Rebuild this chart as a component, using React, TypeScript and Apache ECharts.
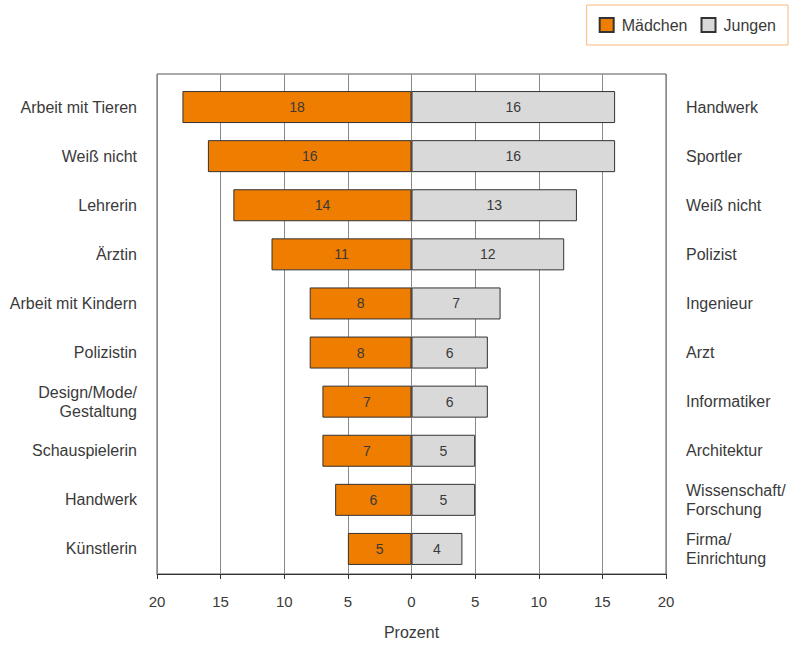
import React, { useEffect, useRef } from "react";
import * as echarts from "echarts";

const girlCategories = [
  "Arbeit mit Tieren",
  "Weiß nicht",
  "Lehrerin",
  "Ärztin",
  "Arbeit mit Kindern",
  "Polizistin",
  "Design/Mode/\nGestaltung",
  "Schauspielerin",
  "Handwerk",
  "Künstlerin",
];
const girlValues = [18, 16, 14, 11, 8, 8, 7, 7, 6, 5];

const boyCategories = [
  "Handwerk",
  "Sportler",
  "Weiß nicht",
  "Polizist",
  "Ingenieur",
  "Arzt",
  "Informatiker",
  "Architektur",
  "Wissenschaft/\nForschung",
  "Firma/\nEinrichtung",
];
const boyValues = [16, 16, 13, 12, 7, 6, 6, 5, 5, 4];

const FONT = "Liberation Sans";
const TEXT = "#3a3a3a";

export default function App() {
  const ref = useRef<HTMLDivElement>(null);
  useEffect(() => {
    const chart = echarts.init(ref.current!, null, { renderer: "svg" });
    const option: any = {
      animation: false,
      textStyle: { fontFamily: FONT, color: TEXT },
      legend: {
        right: 6,
        top: 5,
        padding: [12, 12, 12, 12],
        borderColor: "#F7B878",
        borderWidth: 1,
        itemWidth: 14,
        itemHeight: 14,
        itemGap: 13,
        icon: "rect",
        textStyle: { fontFamily: FONT, fontSize: 16, color: TEXT, padding: [0, 0, 0, 3] },
        data: ["Mädchen", "Jungen"],
      },
      grid: [
        {
          left: 157,
          width: 509,
          top: 74,
          height: 508,
          show: true,
          borderColor: "#555",
          borderWidth: 1,
          backgroundColor: "transparent",
        },
        { left: 157, width: 509, top: 82.5, height: 491 },
      ],
      xAxis: [
        {
          gridIndex: 0,
          type: "value",
          min: -20,
          max: 20,
          interval: 5,
          name: "Prozent",
          nameLocation: "middle",
          nameGap: 50,
          nameTextStyle: { fontFamily: FONT, fontSize: 16, color: TEXT },
          axisLine: { show: true, lineStyle: { color: "#333" } },
          axisTick: { show: true, length: 5, lineStyle: { color: "#333" } },
          axisLabel: {
            margin: 20,
            fontFamily: FONT,
            fontSize: 15,
            color: TEXT,
            formatter: (v: number) => String(Math.abs(v)),
          },
          splitLine: { show: true, lineStyle: { color: "#8a8a8a", width: 1 } },
        },
        {
          gridIndex: 1,
          type: "value",
          min: -20,
          max: 20,
          interval: 5,
          show: false,
          splitLine: { show: false },
        },
      ],
      yAxis: [
        { gridIndex: 0, type: "value", show: false, splitLine: { show: false } },
        {
          gridIndex: 1,
          type: "category",
          inverse: true,
          position: "left",
          data: girlCategories,
          axisLine: { show: false },
          axisTick: { show: false },
          axisLabel: {
            margin: 20,
            fontFamily: FONT,
            fontSize: 16,
            color: TEXT,
            lineHeight: 19,
            align: "right",
          },
        },
        {
          gridIndex: 1,
          type: "category",
          inverse: true,
          position: "right",
          data: boyCategories,
          axisLine: { show: false },
          axisTick: { show: false },
          axisLabel: {
            margin: 20,
            fontFamily: FONT,
            fontSize: 16,
            color: TEXT,
            lineHeight: 19,
            align: "left",
          },
        },
      ],
      series: [
        {
          name: "Mädchen",
          type: "bar",
          xAxisIndex: 1,
          yAxisIndex: 1,
          stack: "total",
          barWidth: 32,
          data: girlValues.map((v) => -v),
          itemStyle: { color: "#EF7D00", borderColor: "#333", borderWidth: 1 },
          label: {
            show: true,
            position: "inside",
            fontFamily: FONT,
            fontSize: 14,
            color: TEXT,
            formatter: (p: any) => String(Math.abs(p.value)),
          },
        },
        {
          name: "Jungen",
          type: "bar",
          xAxisIndex: 1,
          yAxisIndex: 1,
          stack: "total",
          barWidth: 32,
          data: boyValues,
          itemStyle: { color: "#D9D9D9", borderColor: "#333", borderWidth: 1 },
          label: {
            show: true,
            position: "inside",
            fontFamily: FONT,
            fontSize: 14,
            color: TEXT,
            formatter: (p: any) => String(p.value),
          },
        },
      ],
    };
    chart.setOption(option);
    return () => chart.dispose();
  }, []);
  return <div ref={ref} style={{ width: 794, height: 645, position: "absolute", left: 0, top: 0 }} />;
}
